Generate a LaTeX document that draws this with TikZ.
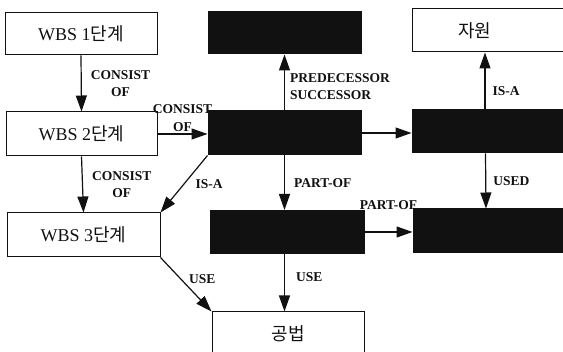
\documentclass[tikz,border=0pt]{standalone}
\usepackage{fontspec}
\setmainfont{Liberation Serif}
\newfontfamily\hangul{Noto Sans CJK KR}
\usetikzlibrary{arrows.meta}
\definecolor{inkblack}{HTML}{111111}
\definecolor{paperwhite}{HTML}{FFFFFF}
\tikzset{
  plain box/.style={
    rectangle,
    inner sep=0pt,
    line width=1pt,
    draw=inkblack,
    fill=paperwhite,
    text=inkblack,
    font=\fontsize{18}{20}\selectfont,
  },
  dark box/.style={
    rectangle,
    inner sep=0pt,
    line width=1pt,
    draw=inkblack,
    fill=inkblack,
  },
  relation/.style={
    -{Triangle[length=16pt,width=11pt]},
    draw=inkblack,
    line width=1.2pt,
  },
  relation label/.style={
    align=center,
    inner sep=1pt,
    text=inkblack,
    font=\bfseries\fontsize{13.5}{17.5}\selectfont,
  },
}

\begin{document}
\begin{tikzpicture}[x=1pt,y=-1pt]
  \useasboundingbox (0,0) rectangle (563,352);
  \fill[paperwhite] (0,0) rectangle (563,352);
  \clip (0,0) rectangle (563,352);

  % WBS levels on the left.
  \node[plain box, minimum width=152pt, minimum height=42pt] (wbs1) at (81,34) {WBS 1{\hangul 단계}};
  \node[plain box, minimum width=151pt, minimum height=44pt] (wbs2) at (81.5,134) {WBS 2{\hangul 단계}};
  \node[plain box, minimum width=153pt, minimum height=44pt] (wbs3) at (83.5,235) {WBS 3{\hangul 단계}};

  % Blacked-out entities in the middle column.
  \node[dark box, minimum width=153pt, minimum height=42pt] (act1) at (284.5,33) {};
  \node[dark box, minimum width=153pt, minimum height=44pt] (act2) at (284.5,133) {};
  \node[dark box, minimum width=154pt, minimum height=43pt] (act3) at (287,232) {};
  \node[plain box, minimum width=152pt, minimum height=44pt] (method) at (288,334) {{\hangul 공법}};

  % Right column runs past the picture edge.
  \node[plain box, minimum width=163pt, minimum height=43pt, text width=163pt, align=left]
    (resource) at (493.5,30.5) {\hspace*{46pt}{\hangul 자원}};
  \node[dark box, minimum width=163pt, minimum height=43pt] (res1) at (493.5,131.5) {};
  \node[dark box, minimum width=162pt, minimum height=44pt] (res2) at (494,231) {};

  % WBS decomposition.
  \draw[relation] (wbs1.south) -- node[relation label, right=8pt] {CONSIST\\OF} (wbs2.north);
  \draw[relation] (wbs2.south) -- node[relation label, right=8pt] {CONSIST\\OF} (wbs3.north);
  \draw[relation] (wbs2.east) -- node[relation label, above=1pt] {CONSIST\\OF} (wbs2.east -| act2.west);

  % Links around the central entity.
  \draw[relation] (act2.north) -- node[relation label, right=4pt, yshift=-4pt, align=left] {PREDECESSOR\\SUCCESSOR} (act1.south);
  \draw[relation] (act2.south west) -- node[relation label, right=10pt] {IS-A} (wbs3.north east);
  \draw[relation] (act2.south) -- node[relation label, right=8pt] {PART-OF} (act2.south |- act3.north);
  \draw[relation] (act2.east) -- (act2.east -| res1.west);

  % Right column.
  \draw[relation] ([xshift=-8.5pt]res1.north) -- node[relation label, pos=0.32, right=6pt] {IS-A} ([xshift=-8.5pt]resource.south);
  \draw[relation] ([xshift=-8pt]res1.south) -- node[relation label, right=6pt] {USED} ([xshift=-8pt]res2.north);
  \draw[relation] (act3.east) -- node[relation label, above=21pt] {PART-OF} (act3.east -| res2.west);

  % Construction method.
  \draw[relation] (act3.south -| act2.south) -- node[relation label, right=10pt, yshift=6pt] {USE} (act2.south |- method.north);
  \draw[relation] (wbs3.south east) -- node[relation label, pos=0.45, right=4pt, yshift=3pt] {USE} (method.north west);
\end{tikzpicture}
\end{document}
